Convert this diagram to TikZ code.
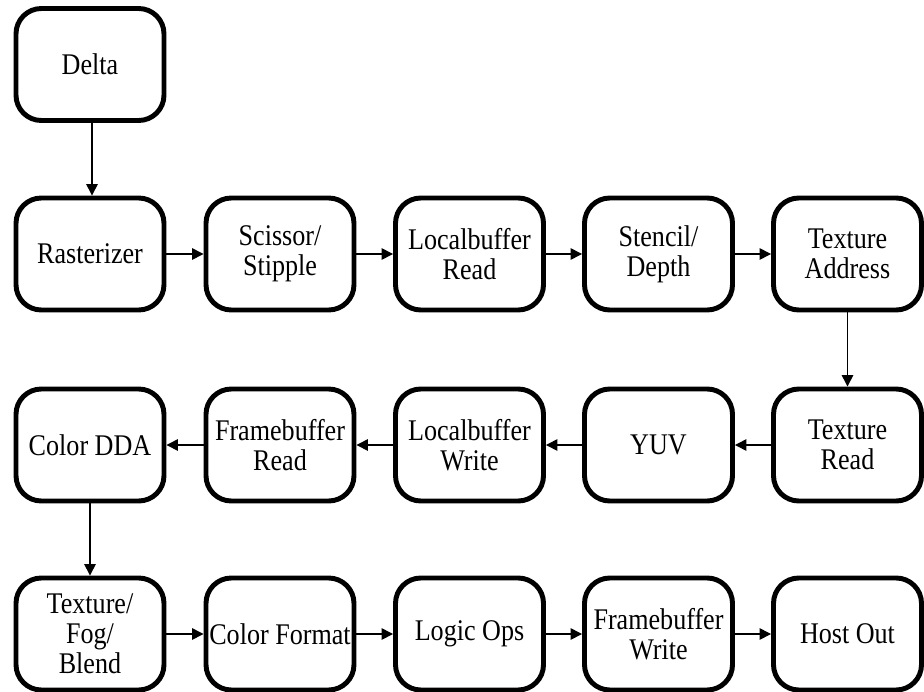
\documentclass[tikz,border=0pt]{standalone}
\usepackage{fontspec}
\setmainfont[FakeStretch=0.87]{Liberation Serif}
\usetikzlibrary{arrows.meta}

\tikzset{
	stage/.style={draw, line width=3.7pt, rounded corners=19pt, minimum width=111pt, minimum height=84pt,
		align=center, inner sep=0pt, font=\fontsize{22.5}{22.5}\selectfont},
	flow/.style={line width=1.1pt, -{Triangle[length=8.5pt,width=8.5pt]}}
}

\begin{document}
\begin{tikzpicture}[x=0.75pt,y=-0.75pt]
		\useasboundingbox (0,0) rectangle (924,692);

		\node[stage] (delta) at (90,64.5) {Delta};

		\node[stage] (raster) at (90,254) {Rasterizer};
		\node[stage] (scissor) at (280,254) {Scissor/\\Stipple};
		\node[stage] (lbread) at (469.5,254) {Localbuffer\\Read};
		\node[stage] (stencil) at (658.5,254) {Stencil/\\Depth};
		\node[stage] (texaddr) at (847.5,254) {Texture\\Address};

		\node[stage] (texread) at (847.5,445) {Texture\\Read};
		\node[stage] (yuv) at (658.5,445) {YUV};
		\node[stage] (lbwrite) at (469.5,445) {Localbuffer\\Write};
		\node[stage] (fbread) at (280,445) {Framebuffer\\Read};
		\node[stage] (colordda) at (90,445) {Color DDA};

		\node[stage] (texfog) at (90,634) {Texture/\\Fog/\\Blend};
		\node[stage] (colorfmt) at (280,634) {Color Format};
		\node[stage] (logicops) at (469.5,634) {Logic Ops};
		\node[stage] (fbwrite) at (658.5,634) {Framebuffer\\Write};
		\node[stage] (hostout) at (847.5,634) {Host Out};

		\draw[flow] (delta.south -| 92,0) -- (raster.north -| 92,0);
		\draw[flow] (texaddr) -- (texread);
		\draw[flow] (colordda) -- (texfog);

		\foreach \a/\b in {raster/scissor, scissor/lbread, lbread/stencil, stencil/texaddr,
			texread/yuv, yuv/lbwrite, lbwrite/fbread, fbread/colordda,
			texfog/colorfmt, colorfmt/logicops, logicops/fbwrite, fbwrite/hostout}{
			\draw[flow] (\a) -- (\b);
		}
	\end{tikzpicture}
\end{document}
